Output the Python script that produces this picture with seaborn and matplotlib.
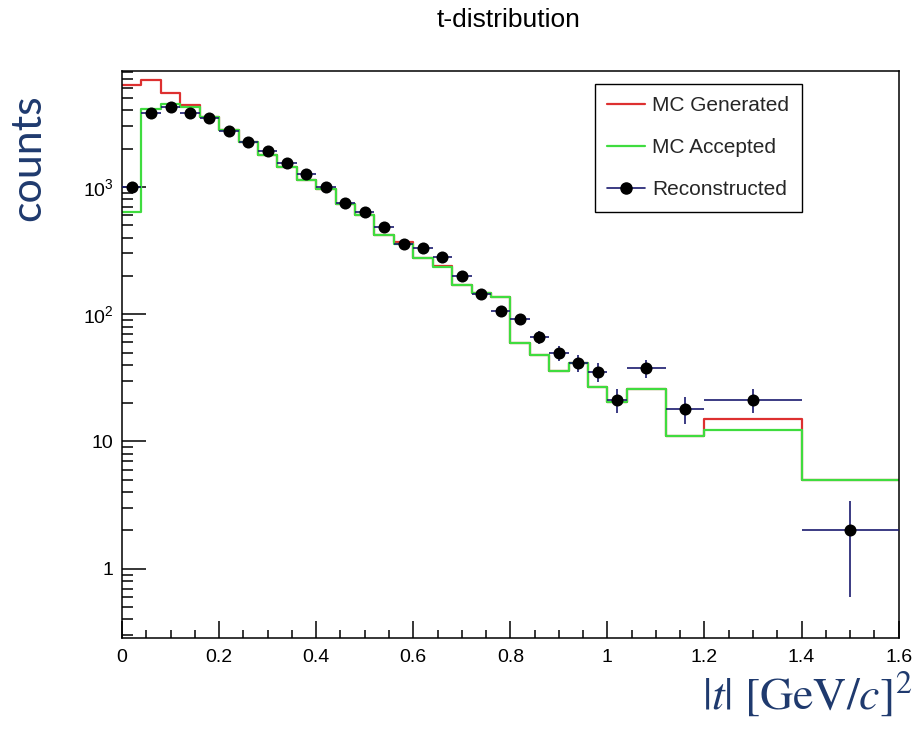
import numpy as np
import pandas as pd
import matplotlib
matplotlib.use("Agg")
import matplotlib.pyplot as plt
from matplotlib.lines import Line2D
from matplotlib.ticker import FixedLocator, FixedFormatter, LogLocator, NullFormatter
import seaborn as sns

# ---------------- data ----------------
bin_edges = [0.00, 0.04, 0.08, 0.12, 0.16, 0.20, 0.24, 0.28, 0.32, 0.36,
             0.40, 0.44, 0.48, 0.52, 0.56, 0.60, 0.64, 0.68, 0.72, 0.76,
             0.80, 0.84, 0.88, 0.92, 0.96, 1.00, 1.04, 1.12, 1.20, 1.40, 1.60]

mc_generated = [6330, 6930, 5480, 4410, 3550, 2810, 2260, 1790, 1440, 1135,
                965, 736, 604, 422, 371, 274, 237, 169, 146, 136,
                59, 48, 36, 41.5, 27, 20.5, 26, 11.1, 15.1, 4.96]

mc_accepted = [637, 4100, 4500, 4260, 3550, 2810, 2260, 1790, 1440, 1135,
               965, 736, 604, 422, 359, 274, 233, 169, 146, 136,
               59, 48, 36, 41.5, 27, 20.5, 26, 11.1, 12.2, 4.96]

reconstructed = [1000, 3820, 4260, 3820, 3490, 2760, 2260, 1920, 1550, 1270,
                 1000, 750, 635, 487, 359, 334, 279, 200, 143, 106,
                 91, 66, 49.6, 41.4, 35.2, 21.3, 37.8, 18.1, 21.3, 2.0]

reconstructed_err = [32, 62, 65, 62, 59, 53, 48, 44, 39, 36,
                     32, 27, 25, 22, 19, 18, 17, 14, 12, 10,
                     9.5, 8.1, 7.0, 6.4, 5.9, 4.6, 6.1, 4.3, 4.6, 1.4]

series_names = ["MC Generated", "MC Accepted", "Reconstructed"]

xtick_values = [0, 0.2, 0.4, 0.6, 0.8, 1.0, 1.2, 1.4, 1.6]
xtick_labels = ["0", "0.2", "0.4", "0.6", "0.8", "1", "1.2", "1.4", "1.6"]
ytick_values = [1, 10, 100, 1000]
ytick_labels = ["1", "10", r"$\mathregular{10^{2}}$", r"$\mathregular{10^{3}}$"]

title_text = "t-distribution"
ylabel_text = "counts"
xlabel_text = r"$|t|\ [\mathrm{GeV}/c]^2$"

# ---------------- style ----------------
sns.set_theme(style="white")
plt.rcParams["font.family"] = ["Liberation Sans", "DejaVu Sans"]
plt.rcParams["mathtext.fontset"] = "stix"

RED = "#dd3030"
GREEN = "#3fdc3f"
NAVY = "#1a1a6e"
TEXT_BLUE = "#1f3a6e"

edges = np.array(bin_edges)
centers = (edges[:-1] + edges[1:]) / 2
half_w = (edges[1:] - edges[:-1]) / 2

df = pd.DataFrame({
    "t": centers,
    "gen": mc_generated,
    "acc": mc_accepted,
    "rec": reconstructed,
    "err": reconstructed_err,
    "xerr": half_w,
})

fig = plt.figure(figsize=(9.14, 7.31), dpi=100)
ax = fig.add_axes([0.1335, 0.1275, 0.8497, 0.7757])
ax.set_yscale("log")

sns.histplot(data=df, x="t", weights="gen", bins=bin_edges, element="step",
             fill=False, color=RED, linewidth=1.6, ax=ax)
sns.histplot(data=df, x="t", weights="acc", bins=bin_edges, element="step",
             fill=False, color=GREEN, linewidth=1.6, ax=ax)

ax.errorbar(df["t"], df["rec"], xerr=df["xerr"], yerr=df["err"], fmt="none",
            ecolor=NAVY, elinewidth=1.2, capsize=0, zorder=4)
sns.scatterplot(data=df, x="t", y="rec", color="black", s=75, marker="o",
                edgecolor="black", linewidth=0, zorder=5, ax=ax)

ax.set_xlim(0, 1.6)
ax.set_ylim(0.287, 8170)

ax.xaxis.set_major_locator(FixedLocator(xtick_values))
ax.xaxis.set_major_formatter(FixedFormatter(xtick_labels))
ax.xaxis.set_minor_locator(FixedLocator(np.arange(0, 1.6001, 0.05)))
ax.yaxis.set_major_locator(FixedLocator(ytick_values))
ax.yaxis.set_major_formatter(FixedFormatter(ytick_labels))
ax.yaxis.set_minor_locator(LogLocator(base=10, subs=np.arange(2, 10), numticks=20))
ax.yaxis.set_minor_formatter(NullFormatter())

ax.tick_params(axis="both", which="both", direction="in", top=False, right=False,
               bottom=True, left=True,
               color="black", width=1.1, labelsize=14, labelcolor="black")
ax.tick_params(axis="x", which="major", length=12, pad=8)
ax.tick_params(axis="x", which="minor", length=6)
ax.tick_params(axis="y", which="major", length=17, pad=6)
ax.tick_params(axis="y", which="minor", length=8)

for s in ax.spines.values():
    s.set_visible(True)
    s.set_color("black")
    s.set_linewidth(1.1)

ax.set_xlabel("")
ax.set_ylabel("")
ax.grid(False)

handles = [
    Line2D([], [], color=RED, lw=1.6),
    Line2D([], [], color=GREEN, lw=1.6),
    Line2D([], [], color=NAVY, lw=1.2, marker="o", markersize=8,
           markerfacecolor="black", markeredgecolor="black"),
]
leg = ax.legend(handles, series_names, loc="upper left",
                bbox_to_anchor=(0.609, 0.977), borderaxespad=0,
                fontsize=15, frameon=True, fancybox=False, framealpha=1,
                edgecolor="black", handlelength=1.8, handletextpad=0.35,
                labelspacing=1.1, borderpad=0.6)
leg.get_frame().set_linewidth(1.0)

fig.text(0.556, 0.972, title_text, ha="center", va="center", fontsize=19,
         color="black")
fig.text(0.031, 0.784, ylabel_text, rotation=90, ha="center", va="center",
         fontsize=31, color=TEXT_BLUE, family=["Lato", "DejaVu Sans"])
fig.text(0.998, 0.050, xlabel_text, ha="right", va="center", fontsize=33,
         color=TEXT_BLUE)

fig.savefig("out.png", dpi=100, facecolor="white")
